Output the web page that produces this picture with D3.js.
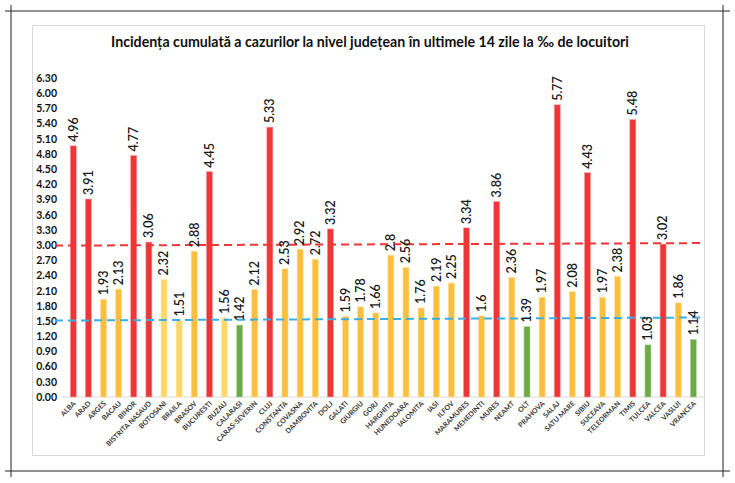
<!DOCTYPE html>
<html>
<head>
<meta charset="utf-8">
<script src="https://cdn.jsdelivr.net/npm/d3@7"></script>
<style>
  body { margin: 0; background: #fff; }
  svg { display: block; }
</style>
</head>
<body>
<div id="chart"></div>
<script>
// Data
var counties = ["ALBA", "ARAD", "ARGES", "BACAU", "BIHOR", "BISTRITA NASAUD", "BOTOSANI", "BRAILA", "BRASOV", "BUCURESTI",
    "BUZAU", "CALARASI", "CARAS-SEVERIN", "CLUJ", "CONSTANTA", "COVASNA", "DAMBOVITA", "DOLJ", "GALATI", "GIURGIU",
    "GORJ", "HARGHITA", "HUNEDOARA", "IALOMITA", "IASI", "ILFOV", "MARAMURES", "MEHEDINTI", "MURES", "NEAMT",
    "OLT", "PRAHOVA", "SALAJ", "SATU MARE", "SIBIU", "SUCEAVA", "TELEORMAN", "TIMIS", "TULCEA", "VALCEA",
    "VASLUI", "VRANCEA"];
var values = [4.96, 3.91, 1.93, 2.13, 4.77, 3.06, 2.32, 1.51, 2.88, 4.45,
    1.56, 1.42, 2.12, 5.33, 2.53, 2.92, 2.72, 3.32, 1.59, 1.78,
    1.66, 2.8, 2.56, 1.76, 2.19, 2.25, 3.34, 1.6, 3.86, 2.36,
    1.39, 1.97, 5.77, 2.08, 4.43, 1.97, 2.38, 5.48, 1.03, 3.02,
    1.86, 1.14];
// colour class per county: r = red, o = orange, y = light yellow, g = green
var classes = ["r", "r", "o", "o", "r", "r", "y", "y", "o", "r",
    "y", "g", "o", "r", "o", "o", "o", "r", "o", "o",
    "o", "o", "o", "o", "o", "o", "r", "o", "r", "o",
    "g", "o", "r", "o", "r", "o", "o", "r", "g", "r",
    "o", "g"];
var yTicks = [0, 0.3, 0.6, 0.9, 1.2, 1.5, 1.8, 2.1, 2.4, 2.7, 3.0, 3.3, 3.6, 3.9, 4.2, 4.5, 4.8, 5.1, 5.4, 5.7, 6.0, 6.3];
// dashed threshold lines (value at left end, value at right end)
var redLine = [2.99, 3.04];
var blueLine = [1.51, 1.57];

var title = "Incidența cumulată a cazurilor la nivel județean în ultimele 14 zile la ‰ de locuitori";

var colors = { r: "#EE3636", o: "#FBBE3E", y: "#FFD766", g: "#6CAB45" };
var strokes = { r: "#F7A0A0", o: "#FEE2A0", y: "#FFEBB0", g: "#B5D5A0" };

var svgWidth = 735;
var svgHeight = 483;
var font = "Lato, 'Open Sans', sans-serif";

var svg = d3.select("#chart").append("svg")
    .attr("width", svgWidth)
    .attr("height", svgHeight)
    .style("font-family", font);

// outer frame lines
var frame = svg.append("g").attr("stroke", "#222").attr("stroke-width", 1);
[[5, 11, 730, 11], [5, 471, 730, 471], [11, 5, 11, 477], [723, 5, 723, 477]].forEach(function (l) {
    frame.append("line")
        .attr("x1", l[0]).attr("y1", l[1]).attr("x2", l[2]).attr("y2", l[3]);
});

// inner chart box
svg.append("rect")
    .attr("x", 32.5).attr("y", 25.5)
    .attr("width", 672).attr("height", 430)
    .attr("fill", "#fff")
    .attr("stroke", "#D9D9D9");

svg.append("text")
    .attr("x", 370)
    .attr("y", 47)
    .attr("text-anchor", "middle")
    .style("font-size", "14.2px")
    .style("font-weight", "bold")
    .style("fill", "#111")
    .text(title);

// scales
var x = d3.scaleBand()
    .domain(counties)
    .range([65.7, 700.9])
    .paddingInner(0.6)
    .paddingOuter(0.3);

var y = d3.scaleLinear()
    .domain([0, 6.3])
    .range([397, 78]);

// y axis labels only
var leftAxis = d3.axisLeft(y)
    .tickValues(yTicks)
    .tickFormat(d3.format(".2f"))
    .tickSize(0)
    .tickPadding(0);

var yAxis = svg.append("g")
    .attr("transform", "translate(57, 0)")
    .call(leftAxis);
yAxis.select(".domain").remove();
yAxis.selectAll("text")
    .style("font-family", font)
    .style("font-size", "10.5px")
    .style("font-weight", "bold")
    .style("fill", "#111");

// baseline
svg.append("line")
    .attr("x1", 62).attr("x2", 704)
    .attr("y1", y(0)).attr("y2", y(0))
    .attr("stroke", "#D9D9D9");

// bars
svg.selectAll("rect.bar")
    .data(counties)
    .enter()
    .append("rect")
    .attr("class", "bar")
    .attr("x", d => x(d))
    .attr("width", x.bandwidth())
    .attr("y", (d, i) => y(values[i]))
    .attr("height", (d, i) => y(0) - y(values[i]))
    .attr("fill", (d, i) => colors[classes[i]])
    .attr("stroke", (d, i) => strokes[classes[i]])
    .attr("stroke-width", 0.6);

// threshold lines
function dashed(vals, color) {
    svg.append("line")
        .attr("x1", 55).attr("x2", 705)
        .attr("y1", y(vals[0])).attr("y2", y(vals[1]))
        .attr("stroke", color)
        .attr("stroke-width", 2)
        .attr("stroke-dasharray", "8,5");
}
dashed(redLine, "#EE3636");
dashed(blueLine, "#3AAFE6");

// value labels
svg.selectAll("text.val")
    .data(counties)
    .enter()
    .append("text")
    .attr("class", "val")
    .attr("transform", (d, i) => `translate(${x(d) + x.bandwidth() / 2}, ${y(values[i]) - 4}) rotate(-90)`)
    .attr("dy", "0.35em")
    .style("font-size", "12.5px")
    .style("font-weight", "600")
    .style("fill", "#1a1a1a")
    .text((d, i) => values[i]);

// category labels
svg.selectAll("text.cat")
    .data(counties)
    .enter()
    .append("text")
    .attr("class", "cat")
    .attr("transform", d => `translate(${x(d) + x.bandwidth() / 2 + 3}, ${y(0) + 7}) rotate(-45)`)
    .attr("text-anchor", "end")
    .style("font-size", "7px")
    .style("font-weight", "bold")
    .style("fill", "#333")
    .text(d => d);
</script>
</body>
</html>
